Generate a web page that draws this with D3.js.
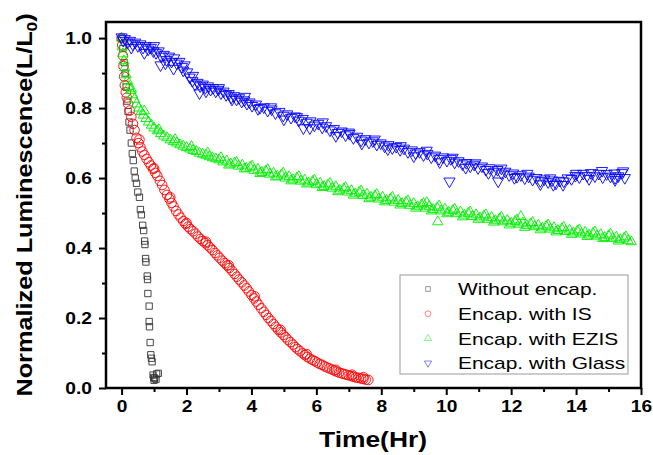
<!DOCTYPE html>
<html>
<head>
<meta charset="utf-8">
<script src="https://cdn.jsdelivr.net/npm/d3@7"></script>
<style>
  body { margin: 0; background: #fff; }
  text { font-family: "Liberation Sans", Arial, sans-serif; }
</style>
</head>
<body>
<script>
// series: [time (hr), L/L0]
var noEncap = [
  [0,1.0],[0.04,0.97],[0.08,0.93],[0.11,0.9],[0.14,0.86],[0.17,0.82],[0.2,0.79],[0.23,0.76],
  [0.26,0.737],[0.3,0.7],[0.33,0.67],[0.36,0.65],[0.39,0.62],[0.42,0.6],[0.46,0.585],[0.5,0.56],
  [0.55,0.545],[0.58,0.51],[0.61,0.495],[0.65,0.465],[0.68,0.45],[0.71,0.42],[0.72,0.41],
  [0.74,0.37],[0.75,0.36],[0.79,0.32],[0.8,0.31],[0.81,0.27],[0.85,0.234],[0.85,0.19],
  [0.86,0.175],[0.88,0.13],[0.9,0.095],[0.92,0.085],[0.94,0.075],[0.97,0.037],[0.99,0.03],
  [1.0,0.022],[1.02,0.028],[1.08,0.04],[1.13,0.042],[1.06,0.025]
];

var withIS = [
  [0,1.0],[0.02,0.98],[0.04,0.95],[0.06,0.92],[0.08,0.89],[0.1,0.865],[0.13,0.845],[0.16,0.83],
  [0.2,0.812],[0.25,0.793],[0.3,0.775],[0.35,0.755],[0.4,0.737],[0.46,0.715],[0.52,0.7],
  [0.58,0.688],[0.64,0.676],[0.7,0.666],[0.77,0.655],[0.84,0.645],[0.9,0.636],[0.97,0.626],
  [1.04,0.615],[1.1,0.606],[1.18,0.592],[1.25,0.58],[1.32,0.566],[1.4,0.552],[1.47,0.541],
  [1.54,0.529],[1.6,0.519],[1.68,0.506],[1.75,0.496],[1.82,0.487],[1.9,0.477],[1.97,0.469],
  [2.05,0.461],[2.12,0.454],[2.2,0.448],[2.28,0.441],[2.35,0.433],[2.43,0.426],[2.5,0.42],
  [2.58,0.414],[2.65,0.408],[2.72,0.402],[2.8,0.394],[2.88,0.386],[2.95,0.379],[3.02,0.372],
  [3.1,0.364],[3.18,0.357],[3.25,0.35],[3.32,0.343],[3.4,0.335],[3.48,0.326],[3.55,0.318],
  [3.62,0.31],[3.7,0.302],[3.78,0.293],[3.85,0.285],[3.92,0.276],[4.0,0.266],[4.08,0.256],
  [4.15,0.247],[4.22,0.238],[4.3,0.228],[4.38,0.218],[4.45,0.209],[4.52,0.2],[4.6,0.192],
  [4.68,0.183],[4.75,0.175],[4.82,0.167],[4.9,0.159],[4.98,0.152],[5.05,0.145],[5.12,0.138],
  [5.2,0.131],[5.28,0.124],[5.35,0.117],[5.42,0.111],[5.5,0.105],[5.58,0.099],[5.65,0.094],
  [5.72,0.089],[5.8,0.084],[5.88,0.08],[5.95,0.077],[6.02,0.073],[6.1,0.069],[6.18,0.066],
  [6.25,0.062],[6.32,0.059],[6.4,0.056],[6.48,0.053],[6.55,0.05],[6.62,0.047],[6.7,0.044],
  [6.78,0.042],[6.85,0.04],[6.92,0.038],[7.0,0.036],[7.08,0.034],[7.15,0.032],[7.22,0.03],
  [7.3,0.029],[7.38,0.027],[7.45,0.026],[7.52,0.024],[7.6,0.023],
  [0.55,0.71],[1.0,0.628],[1.5,0.545],[2.0,0.472],[2.6,0.418],[3.3,0.351],[4.1,0.262],
  [4.9,0.166],[5.7,0.097],[6.6,0.052],[7.1,0.038],[7.45,0.031]
];

var withEZIS = [
  [0,1.0],[0.02,0.975],[0.04,0.955],[0.07,0.935],[0.1,0.915],[0.14,0.895],[0.18,0.878],
  [0.23,0.862],[0.28,0.85],[0.34,0.838],[0.4,0.825],[0.46,0.812],[0.53,0.8],[0.6,0.79],
  [0.67,0.78],[0.75,0.77],[0.83,0.76],[0.92,0.751],[1.0,0.743],[1.1,0.735],[1.2,0.727],
  [1.3,0.72],[1.4,0.715],[1.5,0.709],[1.6,0.704],[1.7,0.7],[1.8,0.695],[1.9,0.691],
  [2.0,0.687],[2.1,0.683],[2.2,0.679],[2.3,0.676],[2.4,0.671],[2.5,0.668],[2.6,0.665],
  [2.7,0.661],[2.8,0.658],[2.9,0.655],[3.0,0.652],[3.12,0.646],[3.24,0.649],[3.36,0.64],
  [3.48,0.643],[3.6,0.634],[3.72,0.637],[3.84,0.628],[3.96,0.631],[4.08,0.622],[4.2,0.625],
  [4.32,0.616],[4.44,0.62],[4.56,0.611],[4.68,0.614],[4.8,0.605],[4.92,0.609],[5.04,0.6],
  [5.16,0.604],[5.28,0.595],[5.4,0.6],[5.52,0.591],[5.64,0.594],[5.76,0.586],[5.88,0.59],
  [6.0,0.581],[6.12,0.585],[6.24,0.576],[6.36,0.58],[6.48,0.571],[6.6,0.575],[6.72,0.565],
  [6.84,0.569],[6.96,0.56],[7.08,0.564],[7.2,0.555],[7.32,0.559],[7.44,0.55],[7.56,0.554],
  [7.68,0.545],[7.8,0.549],[7.92,0.54],[8.04,0.545],[8.16,0.536],[8.28,0.54],[8.4,0.531],
  [8.52,0.536],[8.64,0.527],[8.76,0.531],[8.88,0.522],[9.0,0.527],[9.12,0.518],[9.24,0.523],
  [9.36,0.514],[9.4,0.53],[9.48,0.519],[9.6,0.51],[9.72,0.515],[9.74,0.475],[9.84,0.506],
  [9.96,0.511],[10.08,0.502],[10.2,0.507],[10.32,0.498],[10.44,0.503],[10.56,0.494],
  [10.68,0.499],[10.8,0.49],[10.92,0.495],[11.04,0.486],[11.16,0.491],[11.28,0.482],
  [11.4,0.487],[11.52,0.478],[11.64,0.483],[11.76,0.475],[11.88,0.479],[12.0,0.471],
  [12.12,0.476],[12.24,0.468],[12.3,0.49],[12.36,0.472],[12.48,0.464],[12.6,0.469],
  [12.72,0.461],[12.84,0.465],[12.96,0.457],[13.08,0.462],[13.2,0.454],[13.32,0.458],
  [13.44,0.45],[13.56,0.455],[13.68,0.447],[13.8,0.451],[13.92,0.443],[14.04,0.448],
  [14.16,0.44],[14.28,0.445],[14.4,0.437],[14.52,0.442],[14.64,0.434],[14.76,0.438],
  [14.88,0.43],[15.0,0.435],[15.12,0.427],[15.24,0.431],[15.36,0.424],[15.48,0.428],
  [15.6,0.421],[15.7,0.418],
  [0.3,0.855],[0.7,0.792],[1.15,0.738],[1.65,0.71],[2.15,0.69],[2.65,0.672],
  [3.06,0.658],[3.3,0.637],[3.54,0.645],[3.78,0.626],[4.02,0.634],[4.26,0.613],[4.5,0.624],
  [4.74,0.603],[4.98,0.614],[5.22,0.592],[5.46,0.604],[5.7,0.583],[5.94,0.594],[6.18,0.573],
  [6.42,0.585],[6.66,0.561],[6.9,0.573],[7.14,0.551],[7.38,0.563],[7.62,0.541],[7.86,0.553],
  [8.1,0.532],[8.34,0.545],[8.58,0.523],[8.82,0.535],[9.06,0.514],[9.3,0.527],[9.54,0.506],
  [9.78,0.52],[10.02,0.498],[10.26,0.511],[10.5,0.489],[10.74,0.503],[10.98,0.482],
  [11.22,0.495],[11.46,0.474],[11.7,0.488],[11.94,0.466],[12.18,0.48],[12.42,0.459],
  [12.66,0.473],[12.9,0.452],[13.14,0.466],[13.38,0.446],[13.62,0.459],[13.86,0.439],
  [14.1,0.452],[14.34,0.433],[14.58,0.446],[14.82,0.427],[15.06,0.44],[15.3,0.42],[15.54,0.432]
];

var withGlass = [
  [0,1.0],[0.05,0.99],[0.1,0.995],[0.18,0.985],[0.26,0.99],[0.34,0.98],[0.42,0.985],
  [0.5,0.975],[0.58,0.98],[0.66,0.97],[0.74,0.975],[0.82,0.965],[0.9,0.97],[0.98,0.96],
  [1.06,0.955],[1.14,0.96],[1.2,0.92],[1.22,0.945],[1.3,0.95],[1.35,0.925],[1.38,0.935],
  [1.46,0.945],[1.54,0.93],[1.62,0.94],[1.7,0.925],[1.78,0.93],[1.86,0.915],[1.94,0.92],
  [2.02,0.9],[2.1,0.885],[2.18,0.875],[2.26,0.865],[2.34,0.87],[2.4,0.84],[2.42,0.86],
  [2.5,0.865],[2.58,0.855],[2.66,0.86],[2.74,0.85],[2.82,0.855],[2.9,0.845],[2.98,0.85],
  [3.06,0.84],[3.14,0.845],[3.22,0.835],[3.3,0.838],[3.38,0.828],[3.46,0.832],[3.54,0.822],
  [3.62,0.826],[3.7,0.816],[3.78,0.82],[3.86,0.81],[3.94,0.814],[4.02,0.804],[4.14,0.808],
  [4.26,0.798],[4.38,0.8],[4.5,0.79],[4.62,0.794],[4.74,0.783],[4.86,0.787],[4.98,0.776],
  [5.1,0.78],[5.22,0.77],[5.34,0.774],[5.46,0.762],[5.58,0.767],[5.6,0.74],[5.7,0.756],
  [5.82,0.76],[5.94,0.748],[6.06,0.753],[6.18,0.742],[6.3,0.746],[6.42,0.734],[6.54,0.738],
  [6.66,0.727],[6.78,0.731],[6.9,0.72],[7.02,0.724],[7.14,0.712],[7.26,0.716],[7.38,0.705],
  [7.5,0.709],[7.62,0.699],[7.74,0.703],[7.86,0.693],[7.98,0.697],[8.1,0.688],[8.22,0.692],
  [8.34,0.683],[8.46,0.687],[8.58,0.678],[8.7,0.682],[8.82,0.672],[8.94,0.677],[9.06,0.668],
  [9.18,0.672],[9.3,0.663],[9.42,0.667],[9.54,0.657],[9.66,0.662],[9.78,0.652],[9.9,0.657],
  [10.02,0.647],[10.1,0.588],[10.14,0.652],[10.26,0.642],[10.38,0.646],[10.5,0.637],
  [10.62,0.641],[10.74,0.631],[10.86,0.636],[10.98,0.626],[11.1,0.631],[11.22,0.621],
  [11.34,0.626],[11.46,0.616],[11.58,0.621],[11.6,0.588],[11.7,0.611],[11.82,0.616],
  [11.94,0.606],[12.06,0.611],[12.18,0.601],[12.3,0.606],[12.42,0.597],[12.54,0.602],
  [12.66,0.593],[12.78,0.598],[12.9,0.589],[13.02,0.594],[13.14,0.586],[13.26,0.591],
  [13.3,0.578],[13.38,0.582],[13.5,0.59],[13.62,0.588],[13.74,0.597],[13.86,0.595],
  [13.98,0.604],[14.1,0.6],[14.22,0.61],[14.34,0.604],[14.46,0.612],[14.58,0.603],[14.7,0.61],
  [14.82,0.6],[14.94,0.609],[15.06,0.602],[15.18,0.611],[15.2,0.598],[15.3,0.603],
  [15.42,0.612],[15.5,0.598],
  [0.3,0.97],[0.7,0.955],[1.0,0.975],[1.6,0.91],[1.9,0.905],
  [2.2,0.89],[2.6,0.845],[3.0,0.855],[3.4,0.822],[3.8,0.83],[4.2,0.795],[4.6,0.8],[5.0,0.765],
  [5.4,0.772],[5.8,0.74],[6.2,0.757],[6.6,0.718],[7.0,0.728],[7.4,0.696],[7.8,0.708],
  [8.2,0.68],[8.6,0.689],[9.0,0.66],[9.4,0.676],[9.8,0.643],[10.2,0.656],[10.6,0.627],
  [10.9,0.64],[11.3,0.612],[11.7,0.625],[12.1,0.598],[12.5,0.61],[12.9,0.58],[13.2,0.597],
  [13.6,0.578],[14.0,0.61],[14.4,0.595],[14.8,0.618],[15.2,0.592],[15.45,0.617]
];

var seriesNames = ["Without encap.", "Encap. with IS", "Encap. with EZIS", "Encap. with Glass"];
var seriesColors = ["#333333", "#ff0000", "#00ee00", "#0000ff"];
var xMajor = [0, 2, 4, 6, 8, 10, 12, 14, 16];
var xMinor = [1, 3, 5, 7, 9, 11, 13, 15];
var yMajor = [0, 0.2, 0.4, 0.6, 0.8, 1.0];
var yMinor = [0.1, 0.3, 0.5, 0.7, 0.9];

var w = 653, h = 455;
var plotL = 106, plotR = 641, plotT = 22, plotB = 388;
var sx = 1.2; // the original lettering is a bit wide

var svg = d3.select("body").append("svg")
  .attr("width", w)
  .attr("height", h);

var x = d3.scaleLinear().domain([-0.48, 16]).range([plotL, plotR]);
var y = d3.scaleLinear().domain([0, 1.046]).range([plotB, plotT]);

// ticks
var gx = svg.append("g").attr("transform", "translate(0," + plotB + ")")
  .call(d3.axisBottom(x).tickValues(xMajor).tickSizeInner(7).tickSizeOuter(0).tickPadding(6));
svg.append("g").attr("transform", "translate(0," + plotB + ")")
  .call(d3.axisBottom(x).tickValues(xMinor).tickSizeInner(4).tickSizeOuter(0).tickFormat(""));
var gy = svg.append("g").attr("transform", "translate(" + plotL + ",0)")
  .call(d3.axisLeft(y).tickValues(yMajor).tickSizeInner(7).tickSizeOuter(0).tickPadding(4.7)
    .tickFormat(d3.format(".1f")));
svg.append("g").attr("transform", "translate(" + plotL + ",0)")
  .call(d3.axisLeft(y).tickValues(yMinor).tickSizeInner(4).tickSizeOuter(0).tickFormat(""));

svg.selectAll(".domain").remove();
svg.selectAll(".tick line").attr("stroke", "#000").attr("stroke-width", 2);
svg.selectAll(".tick text")
  .attr("fill", "#000")
  .style("font-size", "16px")
  .style("font-weight", "bold")
  .style("font-family", "'Liberation Sans', Arial, sans-serif");
gx.selectAll(".tick text").attr("transform", "scale(" + sx + ",1)");
gy.selectAll(".tick text").attr("transform", "scale(" + sx + ",1)");

// markers
var markerSymbols = [d3.symbolSquare, d3.symbolCircle, d3.symbolTriangle, d3.symbolTriangle];
var markerSizes = [40, 72, 46, 54];
var markerRot = [0, 0, 0, 180];
var allSeries = [noEncap, withIS, withEZIS, withGlass];

allSeries.forEach(function(data, k) {
  var sym = d3.symbol().type(markerSymbols[k]).size(markerSizes[k]);
  svg.append("g").selectAll("path")
    .data(data)
    .enter()
    .append("path")
    .attr("d", sym)
    .attr("transform", function(d) {
      var ty = y(d[1]) + (k == 3 ? -1 : 0);
      return "translate(" + x(d[0]) + "," + ty + ") rotate(" + markerRot[k] + ")";
    })
    .attr("fill", "none")
    .attr("stroke", seriesColors[k])
    .attr("stroke-width", 0.9);
});

// frame
svg.append("rect")
  .attr("x", plotL).attr("y", plotT)
  .attr("width", plotR - plotL).attr("height", plotB - plotT)
  .attr("fill", "none")
  .attr("stroke", "#000")
  .attr("stroke-width", 2.5);

// axis titles
svg.append("text")
  .attr("transform", "translate(373,447) scale(" + sx + ",1)")
  .attr("text-anchor", "middle")
  .style("font-size", "22px")
  .style("font-weight", "bold")
  .text("Time(Hr)");

var yt = svg.append("text")
  .attr("transform", "translate(32,205) rotate(-90) scale(1.15,1)")
  .attr("text-anchor", "middle")
  .style("font-size", "22px")
  .style("font-weight", "bold");
yt.append("tspan").text("Normalized Luminescence(L/L");
yt.append("tspan").attr("dy", 5).style("font-size", "15px").text("0");
yt.append("tspan").attr("dy", -5).text(")");

// legend
var legend = svg.append("g");
legend.append("rect")
  .attr("x", 400).attr("y", 275)
  .attr("width", 228).attr("height", 99)
  .attr("fill", "#fff")
  .attr("stroke", "#999")
  .attr("stroke-width", 1);

var legendSizes = [22, 26, 22, 22];
seriesNames.forEach(function(name, i) {
  var ly = 289 + i * 24.7;
  legend.append("path")
    .attr("d", d3.symbol().type(markerSymbols[i]).size(legendSizes[i]))
    .attr("transform", "translate(428," + ly + ") rotate(" + markerRot[i] + ")")
    .attr("fill", "none")
    .attr("stroke", seriesColors[i])
    .attr("stroke-opacity", 0.55)
    .attr("stroke-width", 0.9);
  legend.append("text")
    .attr("transform", "translate(458," + ly + ") scale(1.23,1)")
    .attr("dy", "0.36em")
    .style("font-size", "17px")
    .text(name);
});
</script>
</body>
</html>
